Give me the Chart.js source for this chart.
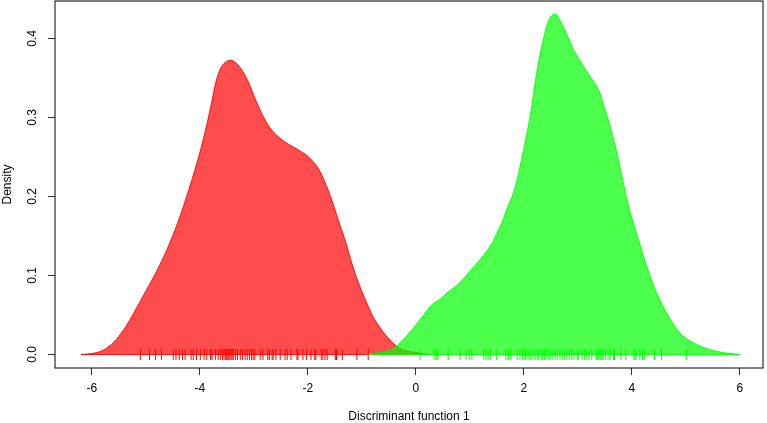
<!DOCTYPE html>
<html><head><meta charset="utf-8">
<script src="https://cdn.jsdelivr.net/npm/chart.js@4.4.1/dist/chart.umd.min.js"></script>
<style>html,body{margin:0;padding:0;background:#fff;}</style>
</head><body>
<canvas id="c" width="767" height="423"></canvas>
<script>
// Density curve of group 1 (red)
const redX = [-6.2,-6.0,-5.8,-5.6,-5.4,-5.2,-5.0,-4.8,-4.6,-4.4,-4.2,-4.0,-3.9,-3.8,-3.7,-3.6,-3.5,-3.42,-3.3,-3.2,-3.1,-3.0,-2.9,-2.8,-2.7,-2.6,-2.4,-2.2,-2.0,-1.9,-1.8,-1.7,-1.6,-1.5,-1.4,-1.3,-1.2,-1.1,-1.0,-0.9,-0.8,-0.7,-0.6,-0.5,-0.4,-0.3,-0.2,-0.1,0.0,0.1,0.25];
const redY = [0,0.0012,0.005,0.015,0.032,0.055,0.08,0.105,0.134,0.168,0.209,0.255,0.282,0.312,0.345,0.364,0.371,0.3725,0.367,0.358,0.345,0.328,0.312,0.298,0.287,0.279,0.268,0.26,0.251,0.244,0.235,0.221,0.204,0.184,0.163,0.143,0.119,0.098,0.08,0.064,0.049,0.038,0.028,0.02,0.013,0.008,0.005,0.0035,0.0025,0.0012,0];
// Density curve of group 2 (green)
const greenX = [-0.9,-0.8,-0.7,-0.6,-0.5,-0.4,-0.3,-0.2,-0.1,0.0,0.1,0.2,0.3,0.45,0.6,0.8,1.0,1.2,1.38,1.5,1.62,1.7,1.81,1.9,1.96,2.03,2.085,2.15,2.21,2.28,2.36,2.45,2.58,2.73,2.92,3.04,3.16,3.23,3.32,3.41,3.5,3.6,3.7,3.78,3.91,4.09,4.28,4.46,4.68,4.89,5.2,5.57,6.0];
const greenY = [0,0.001,0.002,0.003,0.005,0.008,0.014,0.021,0.029,0.037,0.046,0.055,0.063,0.07,0.079,0.09,0.105,0.121,0.137,0.153,0.171,0.186,0.205,0.228,0.247,0.27,0.289,0.315,0.344,0.372,0.398,0.421,0.431,0.415,0.386,0.372,0.359,0.352,0.343,0.331,0.311,0.289,0.262,0.238,0.196,0.153,0.111,0.078,0.0485,0.0274,0.0127,0.004,0];
// Rug (individual observations)
const redRug = [-5.10,-4.93,-4.82,-4.71,-4.49,-4.44,-4.38,-4.32,-4.27,-4.16,-4.12,-4.06,-3.99,-3.92,-3.87,-3.80,-3.77,-3.71,-3.66,-3.62,-3.58,-3.55,-3.52,-3.50,-3.48,-3.46,-3.44,-3.42,-3.40,-3.38,-3.34,-3.30,-3.25,-3.21,-3.16,-3.12,-3.08,-3.04,-3.01,-2.98,-2.88,-2.83,-2.74,-2.71,-2.66,-2.64,-2.59,-2.51,-2.42,-2.38,-2.31,-2.20,-2.18,-2.09,-2.02,-1.94,-1.87,-1.85,-1.75,-1.72,-1.68,-1.64,-1.49,-1.47,-1.46,-1.36,-1.09,-0.88];
const greenRug = [0.08,0.34,0.38,0.41,0.60,0.82,0.93,0.99,1.04,1.26,1.30,1.34,1.38,1.50,1.67,1.72,1.76,1.88,1.93,1.98,2.02,2.04,2.08,2.12,2.17,2.21,2.25,2.28,2.32,2.35,2.38,2.41,2.45,2.49,2.54,2.58,2.62,2.67,2.71,2.76,2.80,2.84,2.89,2.93,2.99,3.02,3.08,3.13,3.17,3.21,3.26,3.34,3.36,3.38,3.41,3.43,3.45,3.47,3.51,3.56,3.60,3.66,3.68,3.80,3.89,4.04,4.06,4.08,4.15,4.20,4.24,4.42,4.55,5.01];
const xTicks = [-6,-4,-2,0,2,4,6];
const yTicks = [0,0.1,0.2,0.3,0.4];

const toPts = (xs, ys) => xs.map((x, i) => ({x: x, y: ys[i]}));
const rugPts = xs => xs.map(x => ({x: x, y: 0}));
const FONT = {family: "'Liberation Sans', Arial, sans-serif", size: 12};

const boxPlugin = {
  id: 'box',
  afterDraw(chart) {
    const a = chart.chartArea, c = chart.ctx;
    c.save();
    c.strokeStyle = '#000';
    c.lineWidth = 1;
    c.strokeRect(a.left, a.top, a.right - a.left, a.bottom - a.top);
    c.restore();
  }
};
const noPad = s => { s.paddingTop = 0; s.paddingBottom = 0; s.paddingLeft = 0; s.paddingRight = 0; };

new Chart(document.getElementById('c'), {
  type: 'line',
  data: {
    datasets: [
      {data: toPts(redX, redY), fill: 'origin', backgroundColor: 'rgba(255,0,0,0.7)', borderColor: 'rgba(255,0,0,0.9)', borderWidth: 1, pointRadius: 0, cubicInterpolationMode: 'monotone', order: 6},
      {data: [{x: redX[0], y: 0}, {x: redX[redX.length - 1], y: 0}], fill: false, borderColor: 'rgba(255,0,0,0.9)', borderWidth: 1, pointRadius: 0, order: 5},
      {data: toPts(greenX, greenY), fill: 'origin', backgroundColor: 'rgba(0,255,0,0.7)', borderColor: 'rgba(0,255,0,0.9)', borderWidth: 1, pointRadius: 0, cubicInterpolationMode: 'monotone', order: 4},
      {data: [{x: greenX[0], y: 0}, {x: greenX[greenX.length - 1], y: 0}], fill: false, borderColor: 'rgba(0,255,0,0.9)', borderWidth: 1, pointRadius: 0, order: 3},
      {type: 'scatter', data: rugPts(redRug), pointStyle: 'line', pointRotation: 90, pointRadius: 5.5, pointHoverRadius: 5.5, pointBorderColor: '#ff0000', borderColor: '#ff0000', pointBorderWidth: 1, showLine: false, order: 2},
      {type: 'scatter', data: rugPts(greenRug), pointStyle: 'line', pointRotation: 90, pointRadius: 5.5, pointHoverRadius: 5.5, pointBorderColor: '#00ff00', borderColor: '#00ff00', pointBorderWidth: 1, showLine: false, order: 1}
    ]
  },
  options: {
    responsive: false,
    animation: false,
    events: [],
    layout: {autoPadding: false, padding: {top: 1, right: 4, bottom: 0, left: 0}},
    plugins: {legend: {display: false}, tooltip: {enabled: false}},
    scales: {
      x: {
        type: 'linear', min: -6.68, max: 6.43,
        afterBuildTicks: ax => { ax.ticks = xTicks.map(v => ({value: v})); },
        afterFit: s => { s.height = 55; noPad(s); },
        ticks: {callback: v => String(v), font: FONT, color: '#000', padding: 6, maxRotation: 0, autoSkip: false},
        grid: {display: true, drawOnChartArea: false, drawTicks: true, tickLength: 7, color: '#333'},
        border: {display: false},
        title: {display: true, text: 'Discriminant function 1', font: FONT, color: '#000', padding: {top: 0, bottom: -1}}
      },
      y: {
        type: 'linear', min: -0.0171, max: 0.4475,
        afterBuildTicks: ax => { ax.ticks = yTicks.map(v => ({value: v})); },
        afterFit: s => { s.width = 55; noPad(s); },
        ticks: {callback: v => v.toFixed(1), font: FONT, color: '#000', padding: 7, minRotation: 90, maxRotation: 90, crossAlign: 'center', autoSkip: false},
        grid: {display: true, drawOnChartArea: false, drawTicks: true, tickLength: 7, color: '#333'},
        border: {display: false},
        title: {display: true, text: 'Density', font: FONT, color: '#000', padding: {top: 0, bottom: 0}}
      }
    }
  },
  plugins: [boxPlugin]
});
</script>
</body></html>
